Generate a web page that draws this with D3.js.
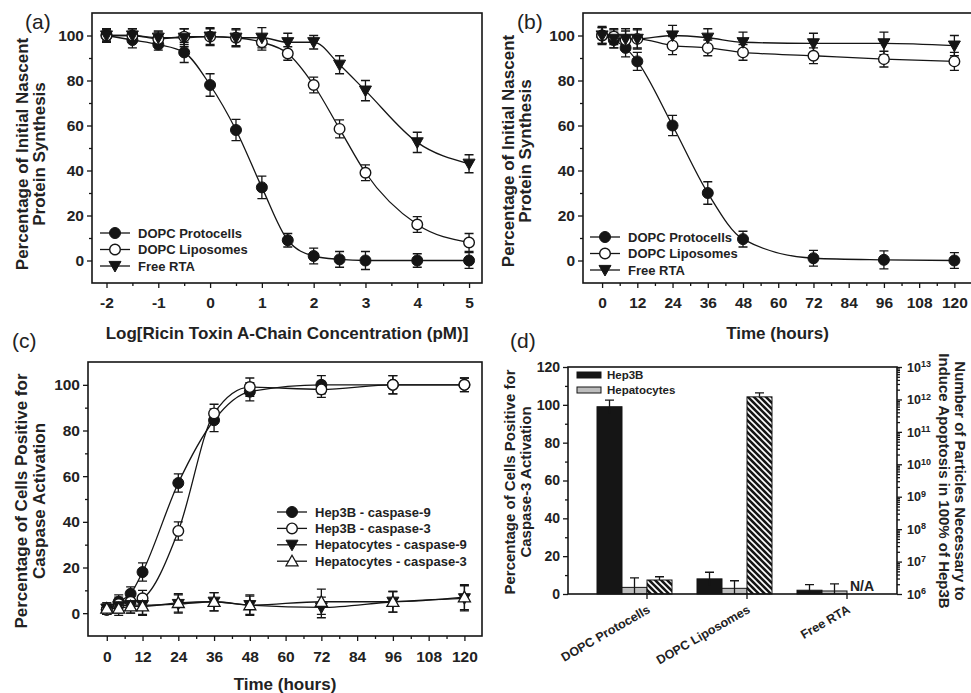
<!DOCTYPE html>
<html><head><meta charset="utf-8">
<script src="https://cdn.jsdelivr.net/npm/d3@7"></script>
<style>
body{margin:0;background:#fff}
text{font-family:"Liberation Sans",Arial,Helvetica,sans-serif;fill:#222}
</style>
</head><body><script>
// ---------- DATA ----------
// Panel (a)
const concLog = [-2,-1.5,-1,-0.5,0,0.5,1,1.5,2,2.5,3,4,5];
const aProtocells    = [100,98,96,92.5,78,58,32.5,9,2,0.5,0,0,0];
const aProtocellsErr = [2.5,3.5,2.5,4.5,5,4.7,5,3,3.5,3.5,4,3,3.5];
const aLiposomes     = [100,100,98.5,99.5,99.5,99,97,92,78,58.5,39,16,8];
const aLiposomesErr  = [3,3,3,3.5,3.5,3.5,3.5,3,3.5,4,3.5,3.5,4];
const aRTA           = [100,100,99,99,99.5,99,99,97,97,87,75.5,52.5,43];
const aRTAErr        = [2.5,3,3,4,4,4,4.5,4,3,4,4.5,4.5,4];
const aXTicks = [-2,-1,0,1,2,3,4,5];
const aLegend = ["DOPC Protocells","DOPC Liposomes","Free RTA"];

// Panel (b)
const timeB = [0,4,8,12,24,36,48,72,96,120];
const bProtocells    = [100,98,94.5,88.5,60,30,9.5,1,0.3,0];
const bProtocellsErr = [4,3.5,4,4,4.5,5,3.5,3.5,4,3.5];
const bLiposomes     = [100,99.5,98,98.5,95.5,94.5,92.5,91,89.5,88.5];
const bLiposomesErr  = [3.5,3.5,4,4,4,3.5,3.5,3.5,3.5,4];
const bRTA           = [100,98.5,98.5,98.5,100,99,97,96.5,96.5,95.5];
const bRTAErr        = [3.5,4,4.5,4.5,4.5,4,4.5,4.5,5,4.5];
const timeTicks = [0,12,24,36,48,60,72,84,96,108,120];

// Panel (c)
const timeC = [0,4,8,12,24,36,48,72,96,120];
const cHep9     = [1.5,5,8.5,18,57,84.5,97,100,100,100];
const cHep9Err  = [2,3,3,4,4,5,4,4,4,3];
const cHep3     = [1.5,4,5,6.5,36,87.5,99,98,100,100];
const cHep3Err  = [2,3,3,3.5,4,4,4,3.5,4,3];
const cHepa9    = [2,3,3.5,3.5,4,5,3.5,2.5,5,6.5];
const cHepa9Err = [2.5,3,3.5,4,4,4,4.5,4.5,4.5,5.5];
const cHepa3    = [2,2,3,3,4.5,5,3.5,5,5,7];
const cHepa3Err = [2.5,3,3,4,4,4,4,5.5,4.5,5.5];
const cLegend = ["Hep3B - caspase-9","Hep3B - caspase-3","Hepatocytes - caspase-9","Hepatocytes - caspase-3"];

// Panel (d)
const dCategories = ["DOPC Protocells","DOPC Liposomes","Free RTA"];
const dHep3B          = [99,8,2];
const dHep3BErr       = [3.5,3.5,3];
const dHepatocytes    = [3.5,3,1.6];
const dHepatocytesErr = [5,4,3.7];
const dParticles      = [2.7e6,1.2e12,null];
const dParticlesUpper = [3.4e6,1.6e12,null];
const dLeftTicks = [0,20,40,60,80,100,120];
const dRightExp = [6,7,8,9,10,11,12,13];

// ---------- DRAW ----------
const W=971,H=693, INK="#151515";
const svg = d3.select("body").append("svg").attr("width",W).attr("height",H);

const defs = svg.append("defs");
const pat = defs.append("pattern").attr("id","hatch").attr("patternUnits","userSpaceOnUse")
  .attr("width",6).attr("height",6);
pat.append("rect").attr("width",6).attr("height",6).attr("fill",INK);
pat.append("path").attr("d","M-1,-1L7,7M-1,5L1,7M5,-1L7,1").attr("stroke","#fff").attr("stroke-width",1.6);

function styleAxis(sel,fs){
  sel.select(".domain").remove();
  sel.selectAll(".tick line").attr("stroke",INK).attr("stroke-width",1.3);
  sel.selectAll(".tick text").attr("font-size",fs).attr("font-weight","bold").attr("fill","#222");
}

function marker(g,type,cx,cy){
  if(type==="fc") g.append("circle").attr("cx",cx).attr("cy",cy).attr("r",5.5).attr("fill",INK).attr("stroke",INK);
  else if(type==="oc") g.append("circle").attr("cx",cx).attr("cy",cy).attr("r",5.3).attr("fill","#fff").attr("stroke",INK).attr("stroke-width",1.4);
  else if(type==="td") g.append("path").attr("transform",`translate(${cx},${cy})`).attr("d","M-6,-4.6L6,-4.6L0,6Z").attr("fill",INK).attr("stroke",INK);
  else if(type==="tu") g.append("path").attr("transform",`translate(${cx},${cy})`).attr("d","M0,-6L6,4.6L-6,4.6Z").attr("fill","#fff").attr("stroke",INK).attr("stroke-width",1.3);
}

function linePanel(cfg){
  const g = svg.append("g");
  const x = d3.scaleLinear().domain(cfg.xDomain).range([cfg.left,cfg.right]);
  const y = d3.scaleLinear().domain([-10,110]).range([cfg.bottom,cfg.top]);
  g.append("g").attr("transform",`translate(0,${cfg.bottom})`)
    .call(d3.axisBottom(x).tickValues(cfg.xMinor).tickSize(3).tickFormat(""))
    .call(s=>styleAxis(s,15.5));
  g.append("g").attr("transform",`translate(0,${cfg.bottom})`)
    .call(d3.axisBottom(x).tickValues(cfg.xTicks).tickSize(5).tickPadding(cfg.xPad).tickFormat(d=>String(d)))
    .call(s=>styleAxis(s,15.5));
  g.append("g").attr("transform",`translate(${cfg.left},0)`)
    .call(d3.axisLeft(y).tickValues([10,30,50,70,90]).tickSize(3).tickFormat(""))
    .call(s=>styleAxis(s,15.5));
  g.append("g").attr("transform",`translate(${cfg.left},0)`)
    .call(d3.axisLeft(y).tickValues([0,20,40,60,80,100]).tickSize(5).tickPadding(3).tickFormat(d=>String(d)))
    .call(s=>styleAxis(s,15.5));
  g.append("rect").attr("x",cfg.left).attr("y",cfg.top).attr("width",cfg.right-cfg.left)
    .attr("height",cfg.bottom-cfg.top).attr("fill","none").attr("stroke",INK).attr("stroke-width",1.6);
  const line = d3.line().x(d=>x(d.x)).y(d=>y(d.y)).curve(d3.curveMonotoneX);
  const data = cfg.series.map(s=>cfg.xs.map((xv,i)=>({x:xv,y:s.values[i],e:s.err[i]})));
  data.forEach(pts=>g.append("path").datum(pts).attr("d",line).attr("fill","none").attr("stroke",INK).attr("stroke-width",1.3));
  data.forEach(pts=>pts.forEach(d=>{
    const cx=x(d.x), y1=y(d.y+d.e), y0=y(d.y-d.e);
    g.append("path").attr("d",`M${cx},${y0}V${y1}M${cx-4.5},${y1}H${cx+4.5}M${cx-4.5},${y0}H${cx+4.5}`)
      .attr("stroke",INK).attr("stroke-width",1.3).attr("fill","none");
  }));
  data.forEach((pts,k)=>pts.forEach(d=>marker(g,cfg.series[k].type,x(d.x),y(d.y))));
  cfg.series.forEach((s,k)=>{
    const ly = cfg.legY + k*cfg.legDy;
    g.append("line").attr("x1",cfg.legX).attr("x2",cfg.legX+30).attr("y1",ly).attr("y2",ly).attr("stroke",INK).attr("stroke-width",1.3);
    marker(g,s.type,cfg.legX+15,ly);
    g.append("text").attr("x",cfg.legX+38).attr("y",ly).attr("dy","0.36em").attr("font-size",13).attr("font-weight","bold").text(s.name);
  });
  g.append("text").attr("x",(cfg.left+cfg.right)/2).attr("y",cfg.xTitleY).attr("text-anchor","middle")
    .attr("font-size",17).attr("font-weight","bold").text(cfg.xTitle);
  cfg.yTitle.forEach((t,i)=>{
    g.append("text").attr("transform",`translate(${cfg.yTitleX[i]},${cfg.yTitleCy}) rotate(-90)`).attr("text-anchor","middle")
      .attr("font-size",17).attr("font-weight","bold").text(t);
  });
  g.append("text").attr("x",cfg.tagX).attr("y",cfg.tagY).attr("font-size",21).text(cfg.tag);
}

const minorTime = d3.range(6,120,12);

linePanel({
  left:92,right:482,top:13,bottom:283,xDomain:[-2.28,5.25],
  xTicks:aXTicks, xMinor:[-1.5,-0.5,0.5,1.5,2.5,3.5,4.5], xPad:9,
  xs:concLog,
  series:[
    {name:aLegend[0],values:aProtocells,err:aProtocellsErr,type:"fc"},
    {name:aLegend[1],values:aLiposomes,err:aLiposomesErr,type:"oc"},
    {name:aLegend[2],values:aRTA,err:aRTAErr,type:"td"}],
  legX:100,legY:233,legDy:16.5,
  xTitle:"Log[Ricin Toxin A-Chain Concentration (pM)]", xTitleY:339,
  yTitle:["Percentage of Initial Nascent","Protein Synthesis"], yTitleX:[28,45], yTitleCy:154,
  tag:"(a)",tagX:25,tagY:29
});

linePanel({
  left:583,right:972,top:13,bottom:283,xDomain:[-6.5,126],
  xTicks:timeTicks, xMinor:minorTime, xPad:9,
  xs:timeB,
  series:[
    {name:aLegend[0],values:bProtocells,err:bProtocellsErr,type:"fc"},
    {name:aLegend[1],values:bLiposomes,err:bLiposomesErr,type:"oc"},
    {name:aLegend[2],values:bRTA,err:bRTAErr,type:"td"}],
  legX:590,legY:237,legDy:16.5,
  xTitle:"Time (hours)", xTitleY:339,
  yTitle:["Percentage of Initial Nascent","Protein Synthesis"], yTitleX:[514,531], yTitleCy:151,
  tag:"(b)",tagX:517,tagY:29
});

linePanel({
  left:88,right:482,top:362,bottom:636,xDomain:[-6.3,125.9],
  xTicks:timeTicks, xMinor:minorTime, xPad:10,
  xs:timeC,
  series:[
    {name:cLegend[0],values:cHep9,err:cHep9Err,type:"fc"},
    {name:cLegend[1],values:cHep3,err:cHep3Err,type:"oc"},
    {name:cLegend[2],values:cHepa9,err:cHepa9Err,type:"td"},
    {name:cLegend[3],values:cHepa3,err:cHepa3Err,type:"tu"}],
  legX:277,legY:512,legDy:16.4,
  xTitle:"Time (hours)", xTitleY:690,
  yTitle:["Percentage of Cells Positive for","Caspase Activation"], yTitleX:[27,45], yTitleCy:501,
  tag:"(c)",tagX:12,tagY:348
});

// ---------- Panel (d) ----------
(function(){
  const L=568,R=897,T=367,B=594;
  const g = svg.append("g");
  const x0 = d3.scaleBand().domain(dCategories).range([570,899]).paddingInner(0.25).paddingOuter(0.27);
  const x1 = d3.scaleBand().domain(["hep3b","hepatocytes","particles"]).range([0,x0.bandwidth()]);
  const y = d3.scaleLinear().domain([0,120]).range([B,T]);
  const yR = d3.scaleLog().domain([1e6,1e13]).range([B,T]);

  g.append("g").attr("transform",`translate(${L},0)`)
    .call(d3.axisLeft(y).tickValues([10,30,50,70,90,110]).tickSize(3).tickFormat(""))
    .call(s=>styleAxis(s,13));
  g.append("g").attr("transform",`translate(${L},0)`)
    .call(d3.axisLeft(y).tickValues(dLeftTicks).tickSize(5).tickPadding(3).tickFormat(d=>String(d)))
    .call(s=>styleAxis(s,14));
  const minors=[];
  for(let e=6;e<13;e++) for(let m=2;m<=9;m++) minors.push(m*Math.pow(10,e));
  g.append("g").attr("transform",`translate(${R},0)`)
    .call(d3.axisRight(yR).tickValues(minors).tickSize(3).tickFormat(""))
    .call(s=>styleAxis(s,11));
  const majors = dRightExp.map(e=>Math.pow(10,e));
  g.append("g").attr("transform",`translate(${R},0)`)
    .call(d3.axisRight(yR).tickValues(majors).tickSize(5).tickFormat(""))
    .call(s=>styleAxis(s,11));
  dRightExp.forEach(e=>{
    const t = g.append("text").attr("x",R+10).attr("y",yR(Math.pow(10,e))).attr("dy","0.38em")
      .attr("font-size",12.5).attr("font-weight","bold");
    t.append("tspan").text("10");
    t.append("tspan").attr("dy","-0.5em").attr("font-size",9).text(String(e));
  });
  g.append("g").attr("transform",`translate(0,${B})`)
    .call(d3.axisBottom(x0).tickSize(5).tickFormat("")).call(s=>styleAxis(s,12))
    .selectAll(".tick").attr("transform",d=>`translate(${x0(d)+2*x1.bandwidth()},0)`);
  dCategories.forEach(c=>{
    g.append("text").attr("transform",`translate(${x0(c)+2*x1.bandwidth()+4},612) rotate(-30)`)
      .attr("text-anchor","end").attr("font-size",12.5).attr("font-weight","bold").text(c);
  });

  dCategories.forEach((c,i)=>{
    const bx = x0(c), bw = x1.bandwidth();
    g.append("rect").attr("x",bx+x1("hep3b")).attr("y",y(dHep3B[i])).attr("width",bw).attr("height",B-y(dHep3B[i]))
      .attr("fill",INK).attr("stroke",INK).attr("stroke-width",1);
    g.append("rect").attr("x",bx+x1("hepatocytes")).attr("y",y(dHepatocytes[i])).attr("width",bw).attr("height",B-y(dHepatocytes[i]))
      .attr("fill","#bdbdbd").attr("stroke",INK).attr("stroke-width",1);
    if(dParticles[i]!=null){
      g.append("rect").attr("x",bx+x1("particles")).attr("y",yR(dParticles[i])).attr("width",bw).attr("height",B-yR(dParticles[i]))
        .attr("fill","url(#hatch)").attr("stroke",INK).attr("stroke-width",1);
    } else {
      g.append("text").attr("x",bx+x1("particles")+3).attr("y",591).attr("font-size",14).attr("font-weight","bold").text("N/A");
    }
  });
  function eb(cx,yTop,yBot){
    g.append("path").attr("d",`M${cx},${yBot}V${yTop}M${cx-4.5},${yTop}H${cx+4.5}`)
      .attr("stroke",INK).attr("stroke-width",1.3).attr("fill","none");
  }
  dCategories.forEach((c,i)=>{
    const bx=x0(c), bw=x1.bandwidth();
    eb(bx+x1("hep3b")+bw/2, y(dHep3B[i]+dHep3BErr[i]), y(Math.max(0,dHep3B[i]-dHep3BErr[i])));
    eb(bx+x1("hepatocytes")+bw/2, y(dHepatocytes[i]+dHepatocytesErr[i]), y(Math.max(0,dHepatocytes[i]-dHepatocytesErr[i])));
    if(dParticles[i]!=null) eb(bx+x1("particles")+bw/2, yR(dParticlesUpper[i]), yR(dParticles[i]));
  });
  g.append("rect").attr("x",L).attr("y",T).attr("width",R-L).attr("height",B-T)
    .attr("fill","none").attr("stroke",INK).attr("stroke-width",1.6);
  const leg=[["Hep3B",INK],["Hepatocytes","#bdbdbd"]];
  leg.forEach((l,k)=>{
    const ly=375+k*15;
    g.append("rect").attr("x",577).attr("y",ly-3).attr("width",24).attr("height",6).attr("fill",l[1]).attr("stroke",INK).attr("stroke-width",1);
    g.append("text").attr("x",607).attr("y",ly).attr("dy","0.36em").attr("font-size",11.5).attr("font-weight","bold").text(l[0]);
  });
  [["Percentage of Cells Positive for",515],["Caspase-3 Activation",531]].forEach(t=>{
    g.append("text").attr("transform",`translate(${t[1]},482) rotate(-90)`).attr("text-anchor","middle")
      .attr("font-size",15).attr("font-weight","bold").text(t[0]);
  });
  [["Number of Particles Necessary to",955],["Induce Apoptosis in 100% of Hep3B",939]].forEach(t=>{
    g.append("text").attr("transform",`translate(${t[1]},481) rotate(90)`).attr("text-anchor","middle")
      .attr("font-size",15).attr("font-weight","bold").text(t[0]);
  });
  g.append("text").attr("x",510).attr("y",348).attr("font-size",21).text("(d)");
})();
</script></body></html>
